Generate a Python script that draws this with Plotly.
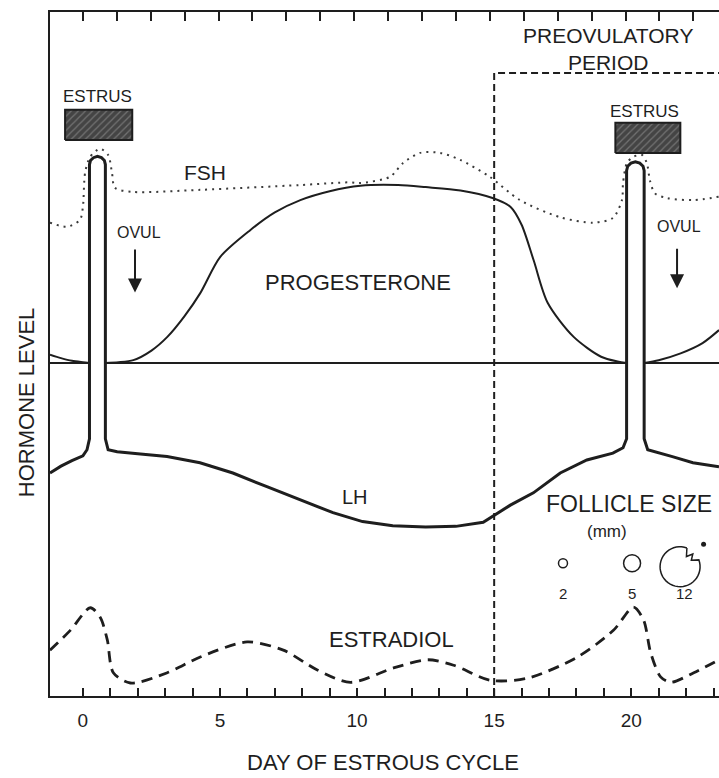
import math
import plotly.graph_objects as go

# ---- data (day of cycle, relative hormone level) ----
lh_days = [-1.2, -0.8, -0.4, 0.0, 0.15, 0.24, 0.24, 0.277, 0.384, 0.53, 0.676, 0.783, 0.82, 0.82,
           0.92, 1.25, 2.0, 3.07, 4.27, 5.47, 6.71, 7.92, 9.12, 10.2, 11.3, 12.5, 13.6, 14.6,
           15.59, 16.43, 17.41, 18.38, 19.33, 19.7, 19.83, 19.83, 19.87, 19.99, 20.15, 20.31,
           20.43, 20.47, 20.47, 20.6, 21.0, 21.5, 22.25, 23.2]
lh_vals = [32.6, 33.6, 34.4, 35.1, 36.0, 37.6, 77.7, 78.3, 78.7, 78.9, 78.7, 78.3, 77.7, 37.6,
           36.0, 35.7, 35.4, 35.0, 34.1, 32.6, 30.6, 28.7, 26.8, 25.5, 24.9, 24.7, 24.8, 25.4,
           27.9, 29.7, 32.6, 34.5, 35.5, 36.3, 37.6, 76.8, 77.45, 77.9, 78.1, 77.9,
           77.45, 76.8, 37.6, 36.0, 35.6, 35.0, 34.1, 33.5]

prog_days = [-1.2, -0.8, -0.4, 0.0, 0.24, None, 0.82, 1.3, 1.84, 2.5, 3.08, 3.7, 4.28, 5.01,
             6.1, 7.0, 7.93, 9.0, 10.12, 11.5, 12.5, 13.77, 14.94, 15.6, 16.0, 16.44, 16.95,
             17.9, 18.9, 19.5, 19.83, None, 20.47, 21.0, 21.8, 22.6, 23.2]
prog_vals = [49.9, 49.4, 49.0, 48.8, 48.7, None, 48.7, 48.8, 49.1, 50.5, 52.5, 55.5, 58.9, 64.2,
             68.1, 70.7, 72.5, 73.8, 74.6, 74.7, 74.4, 73.9, 72.8, 71.5, 68.9, 63.7, 57.5,
             52.5, 49.6, 48.9, 48.7, None, 48.7, 49.1, 50.1, 51.6, 53.5]

prog_base_level = 48.7
base_days = [-1.2, 0.24, None, 0.82, 19.83, None, 20.47, 23.2]

fsh_days = [-1.2, -0.58, -0.11, 0.0, 0.08, 0.26, 0.62, 0.92, 1.06, 1.17, 1.83, 4.27, 7.92,
            9.74, 10.11, 11.2, 11.67, 12.3, 13.02, 13.75, 14.84, 15.94, 17.4, 18.6, 19.33,
            19.66, 19.7, 19.84, 20.06, 20.39, 20.57, 20.68, 20.86, 21.3, 22.25, 23.2]
fsh_vals = [69.2, 68.6, 69.6, 71.5, 76.5, 78.8, 80.0, 79.1, 76.5, 74.3, 73.7, 74.0, 74.7,
            75.1, 75.0, 75.9, 77.9, 79.4, 79.4, 78.4, 75.9, 72.5, 70.0, 69.2, 69.9,
            72.5, 75.0, 77.9, 78.8, 79.1, 77.9, 75.4, 73.5, 72.8, 72.5, 73.0]

e2_days = [-1.2, -0.46, 0.27, 0.63, 0.89, 1.11, 1.73, 3.08, 4.28, 5.99, 7.31, 8.55, 9.76,
           11.33, 12.57, 13.52, 14.86, 16.22, 18.04, 19.35, 20.08, 20.45, 20.71, 21.07,
           21.44, 22.28, 23.2]
e2_vals = [6.7, 9.6, 12.9, 11.5, 8.2, 3.4, 1.9, 3.4, 5.7, 7.9, 6.7, 3.8, 2.0,
           4.1, 5.3, 4.5, 2.3, 2.6, 5.7, 9.6, 13.0, 11.1, 6.3, 2.8,
           2.0, 3.4, 5.3]

bottom_tick_days = list(range(0, 24))
labelled_days = [0, 5, 10, 15, 20]
top_tick_step = 1.237
top_tick_days = [round(k * top_tick_step, 3) for k in range(0, 19)]

estrus_boxes = [(-0.65, 1.8, 81.3, 85.7), (19.42, 21.79, 79.4, 83.8)]
estrus_labels = [(0.55, 87.6), (20.5, 85.4)]
ovul_labels = [(2.04, 67.8), (21.74, 68.7)]
ovul_arrows = [(1.9, 65.5, 59.0), (21.67, 65.6, 59.6)]
preov_start = 15
preov_top = 91.1

follicle_sizes = ["2", "5", "12"]
follicle_days = [17.51, 20.03, 21.78]
follicle_level = 19.4
follicle_radius_px = [4.5, 8.5, 20]

X_RANGE = [-1.2, 23.2]
Y_RANGE = [0, 100]

INK = "#1e1e1e"
FONT = "Liberation Sans, Arial, Helvetica, sans-serif"

fig = go.Figure()

# progesterone baseline
fig.add_trace(go.Scatter(x=base_days, y=[None if d is None else prog_base_level for d in base_days],
                         mode="lines", line=dict(color=INK, width=2), hoverinfo="skip"))
# progesterone
fig.add_trace(go.Scatter(x=prog_days, y=prog_vals, mode="lines",
                         line=dict(color=INK, width=2, shape="spline", smoothing=0.8),
                         connectgaps=False, hoverinfo="skip"))
# FSH
fig.add_trace(go.Scatter(x=fsh_days, y=fsh_vals, mode="lines",
                         line=dict(color="#3a3a3a", width=2, dash="2px,5px", shape="spline", smoothing=0.8),
                         hoverinfo="skip"))
# LH
fig.add_trace(go.Scatter(x=lh_days, y=lh_vals, mode="lines",
                         line=dict(color=INK, width=3, shape="linear"),
                         hoverinfo="skip"))
# estradiol
fig.add_trace(go.Scatter(x=e2_days, y=e2_vals, mode="lines",
                         line=dict(color=INK, width=2.8, dash="11px,7px", shape="spline", smoothing=0.8),
                         hoverinfo="skip"))

# estrus boxes (hatched)
for x0, x1, y0, y1 in estrus_boxes:
    fig.add_trace(go.Scatter(x=[x0, x1, x1, x0, x0], y=[y0, y0, y1, y1, y0], mode="lines",
                             fill="toself", fillcolor="#4d4d4d",
                             fillpattern=dict(shape="/", bgcolor="#444444", fgcolor="#a0a0a0",
                                              size=5, solidity=0.25),
                             line=dict(color=INK, width=2), hoverinfo="skip"))

# invisible trace that carries the top axis
fig.add_trace(go.Scatter(x=X_RANGE, y=Y_RANGE, xaxis="x2", mode="markers",
                         marker=dict(opacity=0), hoverinfo="skip"))

# preovulatory period frame
fig.add_shape(type="path", xref="x", yref="y",
              path=f"M {preov_start},0 L {preov_start},{preov_top} L {X_RANGE[1] + 1},{preov_top}",
              line=dict(color=INK, width=2, dash="7px,4px"))

annotations = []


def label(x, y, text, size, xref="x", yref="y", **kw):
    annotations.append(dict(x=x, y=y, xref=xref, yref=yref, text=text, showarrow=False,
                            font=dict(family=FONT, size=size, color=INK),
                            xanchor="center", yanchor="middle", **kw))


for x, y in estrus_labels:
    label(x, y, "ESTRUS", 17)
for x, y in ovul_labels:
    label(x, y, "OVUL", 16)
for x, y_tail, y_head in ovul_arrows:
    annotations.append(dict(x=x, y=y_head, ax=x, ay=y_tail, xref="x", yref="y", axref="x", ayref="y",
                            text="", showarrow=True, arrowhead=2, arrowsize=1.4, arrowwidth=2,
                            arrowcolor=INK))

label(4.45, 76.6, "FSH", 21)
label(10.04, 60.4, "PROGESTERONE", 22)
label(9.93, 29.1, "LH", 20)
label(11.27, 8.2, "ESTRADIOL", 22)
label(19.15, 94.6, "PREOVULATORY<br>PERIOD", 21)
label(19.9, 28.0, "FOLLICLE SIZE", 23)
label(19.1, 24.0, "(mm)", 17)
for d, s in zip(follicle_days, follicle_sizes):
    label(d + (0.15 if s == "12" else 0), 15.0, s, 15)

label(0.498, -0.0965, "DAY OF ESTROUS CYCLE", 22, xref="paper", yref="paper")
label(-0.034, 0.43, "HORMONE LEVEL", 22, xref="paper", yref="paper", textangle=-90)

# follicle circles (sized in pixels)
for d, r in zip(follicle_days[:2], follicle_radius_px[:2]):
    fig.add_shape(type="circle", xref="x", yref="y", xsizemode="pixel", ysizemode="pixel",
                  xanchor=d, yanchor=follicle_level, x0=-r, x1=r, y0=-r, y1=r,
                  line=dict(color=INK, width=1.5))

# ovulating follicle: open circle with a notch and a released ovum
R = follicle_radius_px[2]
pts = []
for i in range(0, 41):
    a = math.radians(70 + i * (310 / 40))
    pts.append((R * math.cos(a), R * math.sin(a)))
notch = [(0.65 * R * math.cos(math.radians(30)), 0.65 * R * math.sin(math.radians(30))),
         (0.9 * R * math.cos(math.radians(45)), 0.9 * R * math.sin(math.radians(45))),
         (0.6 * R * math.cos(math.radians(58)), 0.6 * R * math.sin(math.radians(58))),
         (R * math.cos(math.radians(70)), R * math.sin(math.radians(70)))]
path = "M " + " L ".join(f"{px:.2f},{py:.2f}" for px, py in pts + notch)
fig.add_shape(type="path", xref="x", yref="y", xsizemode="pixel", ysizemode="pixel",
              xanchor=follicle_days[2], yanchor=follicle_level - 0.5, path=path,
              line=dict(color=INK, width=1.5))
fig.add_shape(type="circle", xref="x", yref="y", xsizemode="pixel", ysizemode="pixel",
              xanchor=follicle_days[2], yanchor=follicle_level - 0.5,
              x0=21, x1=26, y0=20, y1=25, fillcolor=INK, line=dict(color=INK, width=0))

fig.update_layout(
    width=719, height=778,
    margin=dict(l=50, r=0, t=12, b=82),
    paper_bgcolor="white", plot_bgcolor="white",
    showlegend=False,
    annotations=annotations,
    xaxis=dict(range=X_RANGE, showgrid=False, zeroline=False, showline=True, linecolor=INK,
               linewidth=2, ticks="inside", ticklen=8, tickwidth=2, tickcolor=INK,
               tickvals=bottom_tick_days,
               ticktext=[str(d) if d in labelled_days else "" for d in bottom_tick_days],
               tickfont=dict(family=FONT, size=19, color=INK), ticklabelstandoff=6),
    xaxis2=dict(range=X_RANGE, overlaying="x", side="top", showgrid=False, zeroline=False,
                showline=True, linecolor=INK, linewidth=2, ticks="inside", ticklen=9,
                tickwidth=2, tickcolor=INK, tickvals=top_tick_days, showticklabels=False),
    yaxis=dict(range=Y_RANGE, showgrid=False, zeroline=False, showline=True, linecolor=INK,
               linewidth=2, ticks="", showticklabels=False),
)

fig.write_html("out.html")
